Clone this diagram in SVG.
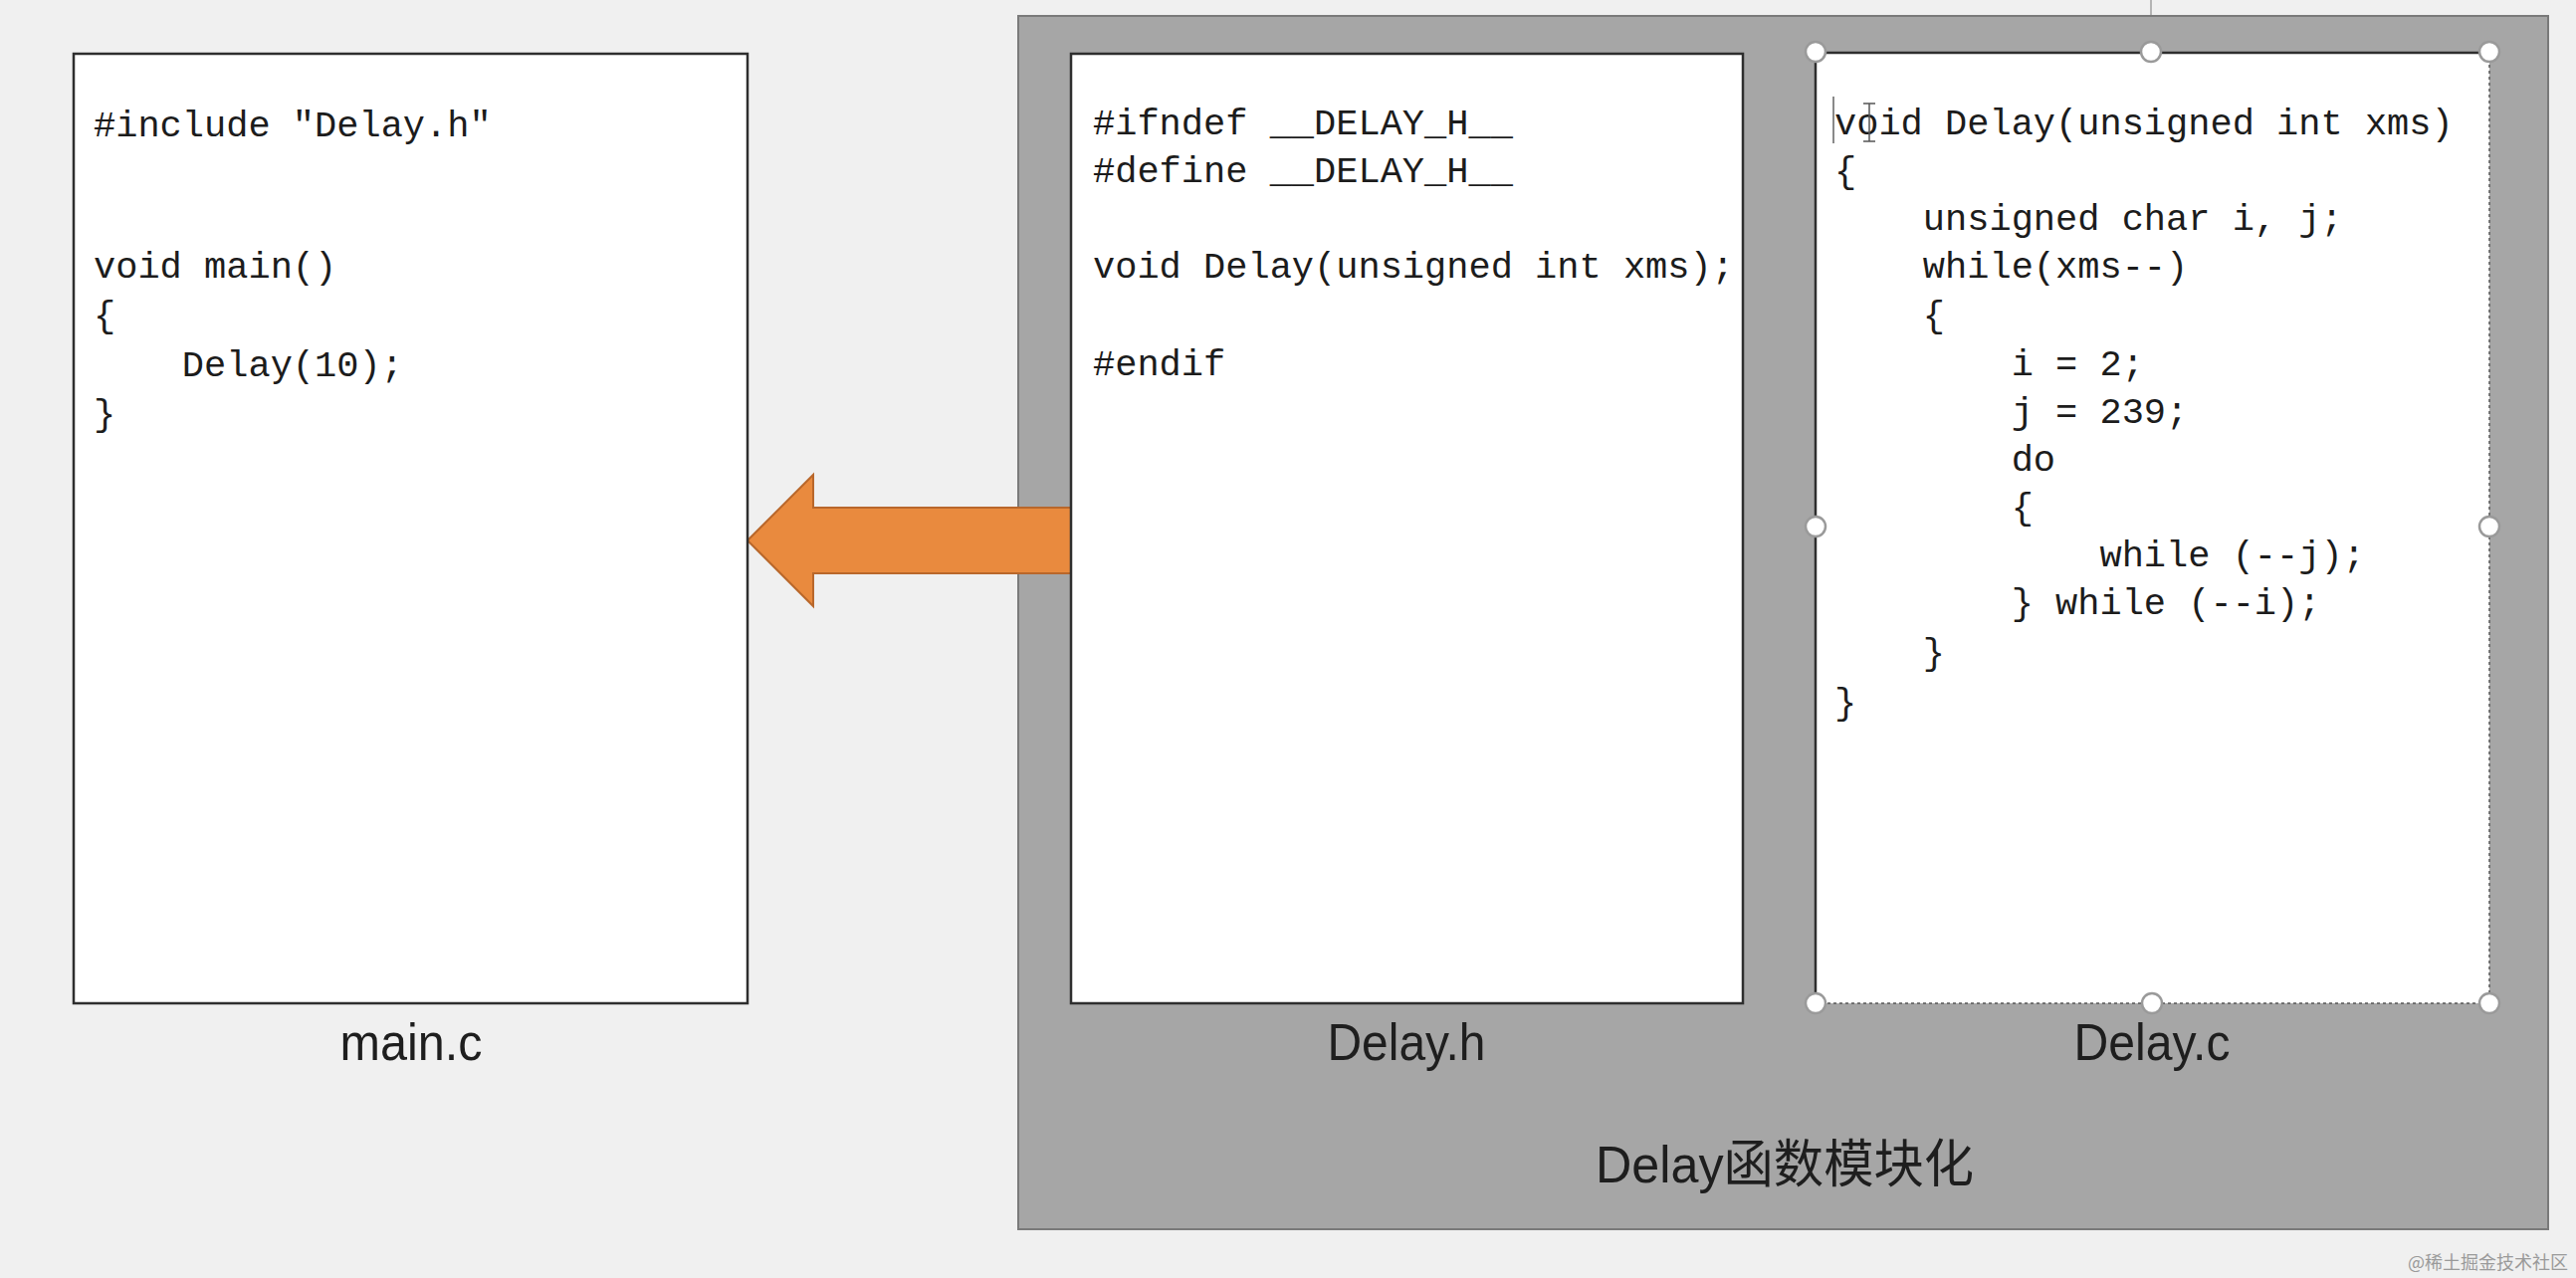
<svg xmlns="http://www.w3.org/2000/svg" width="2588" height="1284" viewBox="0 0 2588 1284" xml:space="preserve">
<style>
.code{font-family:"Liberation Mono","DejaVu Sans Mono",monospace;font-size:37px;fill:#1c1c1c;white-space:pre;}
.lbl{font-family:"Liberation Sans","Noto Sans CJK SC",sans-serif;font-size:52px;fill:#1e1e1e;text-anchor:middle;}
.box{fill:#ffffff;stroke:#2e2e2e;stroke-width:2.5;}
.handle{fill:#ffffff;stroke:#9a9a9a;stroke-width:2.5;}
</style>
<rect x="0" y="0" width="2588" height="1284" fill="#f0f0f0"/>
<line x1="2161" y1="0" x2="2161" y2="42" stroke="#a0a0a0" stroke-width="1.5"/>
<g id="delay-module">
<rect x="1023" y="16" width="1537" height="1219" fill="#a6a6a6" stroke="#7a7a7a" stroke-width="2"/>
<text class="lbl" x="1793" y="1188" textLength="380" lengthAdjust="spacingAndGlyphs">Delay函数模块化</text>
</g>
<g id="connectors">
<polygon points="751,543 817,477 817,510 1076,510 1076,576 817,576 817,609" fill="#E98A3E" stroke="#B9672B" stroke-width="2" stroke-linejoin="miter"/>
</g>
<g id="main-c">
<rect class="box" x="74" y="54" width="677" height="954"/>
<text class="code" x="94" y="137">#include "Delay.h"</text>
<text class="code" x="94" y="279">void main()</text>
<text class="code" x="94" y="328">{</text>
<text class="code" x="94" y="378">    Delay(10);</text>
<text class="code" x="94" y="427">}</text>
<text class="lbl" x="413" y="1065" textLength="143" lengthAdjust="spacingAndGlyphs">main.c</text>
</g>
<g id="delay-h">
<rect class="box" x="1076" y="54" width="675" height="954"/>
<text class="code" x="1098" y="135">#ifndef __DELAY_H__</text>
<text class="code" x="1098" y="183">#define __DELAY_H__</text>
<text class="code" x="1098" y="279">void Delay(unsigned int xms);</text>
<text class="code" x="1098" y="377">#endif</text>
<text class="lbl" x="1413" y="1065" textLength="159" lengthAdjust="spacingAndGlyphs">Delay.h</text>
</g>
<g id="delay-c">
<rect x="1824" y="53" width="677" height="955" fill="#ffffff"/>
<line x1="1824" y1="53" x2="2501" y2="53" stroke="#2e2e2e" stroke-width="2.5"/>
<line x1="1824" y1="53" x2="1824" y2="1008" stroke="#2e2e2e" stroke-width="2.5"/>
<line x1="2501" y1="53" x2="2501" y2="1008" stroke="#555" stroke-width="1.5" stroke-dasharray="3 3"/>
<line x1="1824" y1="1008" x2="2501" y2="1008" stroke="#555" stroke-width="1.5" stroke-dasharray="3 3"/>
<text class="code" x="1843" y="135">void Delay(unsigned int xms)</text>
<text class="code" x="1843" y="183">{</text>
<text class="code" x="1843" y="231">    unsigned char i, j;</text>
<text class="code" x="1843" y="279">    while(xms--)</text>
<text class="code" x="1843" y="328">    {</text>
<text class="code" x="1843" y="377">        i = 2;</text>
<text class="code" x="1843" y="425">        j = 239;</text>
<text class="code" x="1843" y="473">        do</text>
<text class="code" x="1843" y="521">        {</text>
<text class="code" x="1843" y="569">            while (--j);</text>
<text class="code" x="1843" y="617">        } while (--i);</text>
<text class="code" x="1843" y="667">    }</text>
<text class="code" x="1843" y="717">}</text>
<line x1="1842" y1="97" x2="1842" y2="144" stroke="#8a8a8a" stroke-width="2"/>
<path d="M1872,104 H1884 M1878,104 V142 M1872,142 H1884" stroke="#555" stroke-width="1.5" fill="none"/>
<circle class="handle" cx="1824" cy="52" r="10"/>
<circle class="handle" cx="2161" cy="52" r="10"/>
<circle class="handle" cx="2501" cy="52" r="10"/>
<circle class="handle" cx="1824" cy="529" r="10"/>
<circle class="handle" cx="2501" cy="529" r="10"/>
<circle class="handle" cx="1824" cy="1008" r="10"/>
<circle class="handle" cx="2162" cy="1008" r="10"/>
<circle class="handle" cx="2501" cy="1008" r="10"/>
<text class="lbl" x="2162" y="1065" textLength="157" lengthAdjust="spacingAndGlyphs">Delay.c</text>
</g>
<text x="2580" y="1275" font-family="Noto Sans CJK SC, sans-serif" font-size="18" fill="#9a9a9a" text-anchor="end">@稀土掘金技术社区</text>
</svg>
